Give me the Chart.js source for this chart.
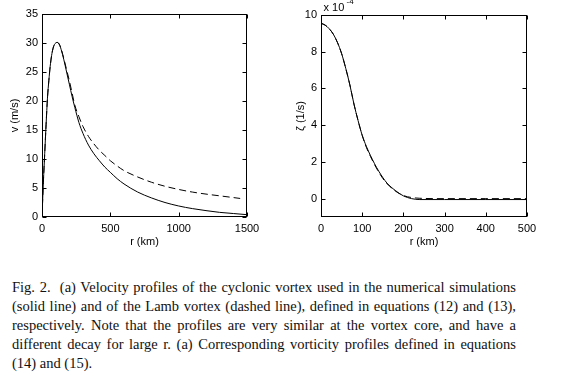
<!DOCTYPE html>
<html>
<head>
<meta charset="utf-8">
<script src="https://cdn.jsdelivr.net/npm/chart.js@4.4.0/dist/chart.umd.min.js"></script>
<style>
  body{margin:0;background:#fff;width:563px;height:380px;overflow:hidden;position:relative;}
  #left{position:absolute;left:0;top:0;}
  #right{position:absolute;left:280px;top:0;}
  #caption{position:absolute;left:12px;top:278px;width:504px;font-family:"Liberation Serif","Times New Roman",serif;font-size:14.5px;line-height:19px;color:#111;}
  #caption div{text-align:justify;text-align-last:justify;white-space:nowrap;}
  #caption div.last{text-align-last:left;}
</style>
</head>
<body>
<canvas id="left" width="280" height="260"></canvas>
<canvas id="right" width="283" height="260"></canvas>
<div id="caption">
  <div>Fig. 2.&nbsp; (a) Velocity profiles of the cyclonic vortex used in the numerical simulations</div>
  <div>(solid line) and of the Lamb vortex (dashed line), defined in equations (12) and (13),</div>
  <div>respectively. Note that the profiles are very similar at the vortex core, and have a</div>
  <div>different decay for large r. (a) Corresponding vorticity profiles defined in equations</div>
  <div class="last">(14) and (15).</div>
</div>
<script>
// (a) velocity, km vs m/s
const rSolid = [0,10,20,30,40,50,60,70,80,90,100,110,120,130,140,160,180,200,220,240,270,300,340,380,420,460,500,550,600,700,800,900,1000,1100,1200,1300,1400,1500];
const vSolid = [0,6,11,16,20.5,23.5,26,27.8,29,29.7,30.0,30.1,30.0,29.6,28.9,27.1,25.0,22.9,20.8,18.9,16.3,14.4,12.4,10.9,9.7,8.6,7.7,6.6,5.7,4.3,3.3,2.5,1.9,1.45,1.1,0.8,0.6,0.4];
const rLamb = [0,10,20,30,40,50,60,70,80,90,100,110,120,130,140,160,180,200,220,240,270,300,340,380,420,460,500,550,600,700,800,900,1000,1100,1200,1300,1400,1450];
const vLamb = [0,6,11,16,20.5,23.5,26,27.8,29,29.7,30.0,30.1,30.0,29.6,29.0,27.3,25.4,23.5,21.4,19.3,17.3,15.6,13.9,12.6,11.5,10.6,9.7,8.8,8.0,6.9,6.0,5.3,4.75,4.3,3.95,3.65,3.35,3.2];
const velXTicks = [0,500,1000,1500];
const velYTicks = [0,5,10,15,20,25,30,35];

// (b) vorticity, units of 1e-4 1/s
const rZeta = [0,10,20,30,40,50,60,70,80,90,100,110,120,130,140,150,160,180,200,220,240,300,400,500];
const zSolid = [9.55,9.45,9.25,8.95,8.5,7.9,7.1,6.2,5.15,4.25,3.45,2.85,2.35,1.9,1.5,1.15,0.85,0.45,0.15,0.0,-0.05,-0.05,-0.05,-0.05];
const zLamb = [9.55,9.45,9.25,8.95,8.5,7.9,7.1,6.2,5.15,4.25,3.45,2.8,2.3,1.85,1.45,1.1,0.82,0.42,0.17,0.06,0.02,0,0,0];
const zetaXTicks = [0,100,200,300,400,500];
const zetaYTicks = [0,2,4,6,8,10];

const axisFont = {family:'"Liberation Sans", Arial, sans-serif', size:11};

function pts(xs, ys){ return xs.map((x,i)=>({x:x, y:ys[i]})); }

// matlab-like box with inward ticks on all four sides
const frame = {
  id:'frame',
  afterDraw(chart){
    const {ctx, chartArea:a, scales:{x,y}} = chart;
    const L=Math.round(a.left)+0.5, R=Math.round(a.right)-0.5, T=Math.round(a.top)+0.5, B=Math.round(a.bottom)-0.5;
    ctx.save();
    ctx.strokeStyle='#000'; ctx.lineWidth=1;
    ctx.strokeRect(L, T, R-L, B-T);
    ctx.beginPath();
    x.ticks.forEach(t=>{
      const px = Math.round(x.getPixelForValue(t.value))+0.5;
      ctx.moveTo(px,B); ctx.lineTo(px,B-4);
      ctx.moveTo(px,T); ctx.lineTo(px,T+4);
    });
    y.ticks.forEach(t=>{
      const py = Math.round(y.getPixelForValue(t.value))+0.5;
      ctx.moveTo(L,py); ctx.lineTo(L+4,py);
      ctx.moveTo(R,py); ctx.lineTo(R-4,py);
    });
    ctx.stroke();
    if(chart.options.plugins.frame && chart.options.plugins.frame.exponent){
      ctx.fillStyle='#000';
      ctx.font='11px "Liberation Sans", Arial, sans-serif';
      ctx.textBaseline='alphabetic';
      ctx.fillText('x 10', L+2, 11);
      ctx.font='8px "Liberation Sans", Arial, sans-serif';
      ctx.fillText('-4', L+25, 4);
    }
    ctx.restore();
  }
};

function makeChart(id, cfg){
  return new Chart(document.getElementById(id), {
    type:'line',
    data:{datasets:[
      {data:pts(cfg.xs1,cfg.ys1),borderColor:'#000',borderWidth:1,pointRadius:0,cubicInterpolationMode:'monotone',fill:false},
      {data:pts(cfg.xs2,cfg.ys2),borderColor:'#000',borderWidth:1,borderDash:[7,4],pointRadius:0,cubicInterpolationMode:'monotone',fill:false}
    ]},
    options:{
      responsive:false, animation:false, devicePixelRatio:1,
      layout:{padding:{top:cfg.top,right:cfg.right,left:0,bottom:8}},
      plugins:{legend:{display:false},tooltip:{enabled:false},frame:{exponent:cfg.exponent}},
      scales:{
        x:{type:'linear',min:cfg.xmin,max:cfg.xmax,
          afterBuildTicks:s=>{s.ticks=cfg.xticks.map(v=>({value:v}));},
          afterFit:s=>{s.height=35;},
          grid:{display:false,drawTicks:false},border:{display:false},
          ticks:{font:axisFont,color:'#000',padding:5,maxRotation:0,callback:v=>String(v)},
          title:{display:true,text:'r (km)',font:axisFont,color:'#000',padding:{top:0,bottom:3}}},
        y:{type:'linear',min:cfg.ymin,max:cfg.ymax,
          afterBuildTicks:s=>{s.ticks=cfg.yticks.map(v=>({value:v}));},
          afterFit:s=>{s.width=cfg.yw;},
          grid:{display:false,drawTicks:false},border:{display:false},
          ticks:{font:axisFont,color:'#000',padding:4,callback:v=>String(v)},
          title:{display:true,text:cfg.ytitle,font:axisFont,color:'#000',padding:{top:cfg.tpad,bottom:0}}}
      }
    },
    plugins:[frame]
  });
}

makeChart('left', {xs1:rSolid,ys1:vSolid,xs2:rLamb,ys2:vLamb,xmin:0,xmax:1500,ymin:0,ymax:35,
  xticks:velXTicks,yticks:velYTicks,ytitle:'v (m/s)',top:14,right:33,yw:42,tpad:8,exponent:false});
makeChart('right', {xs1:rZeta,ys1:zSolid,xs2:rZeta,ys2:zLamb,xmin:0,xmax:500,ymin:-1,ymax:10,
  xticks:zetaXTicks,yticks:zetaYTicks,ytitle:'ζ (1/s)',top:15,right:36,yw:41,tpad:14,exponent:true});
</script>
</body>
</html>
